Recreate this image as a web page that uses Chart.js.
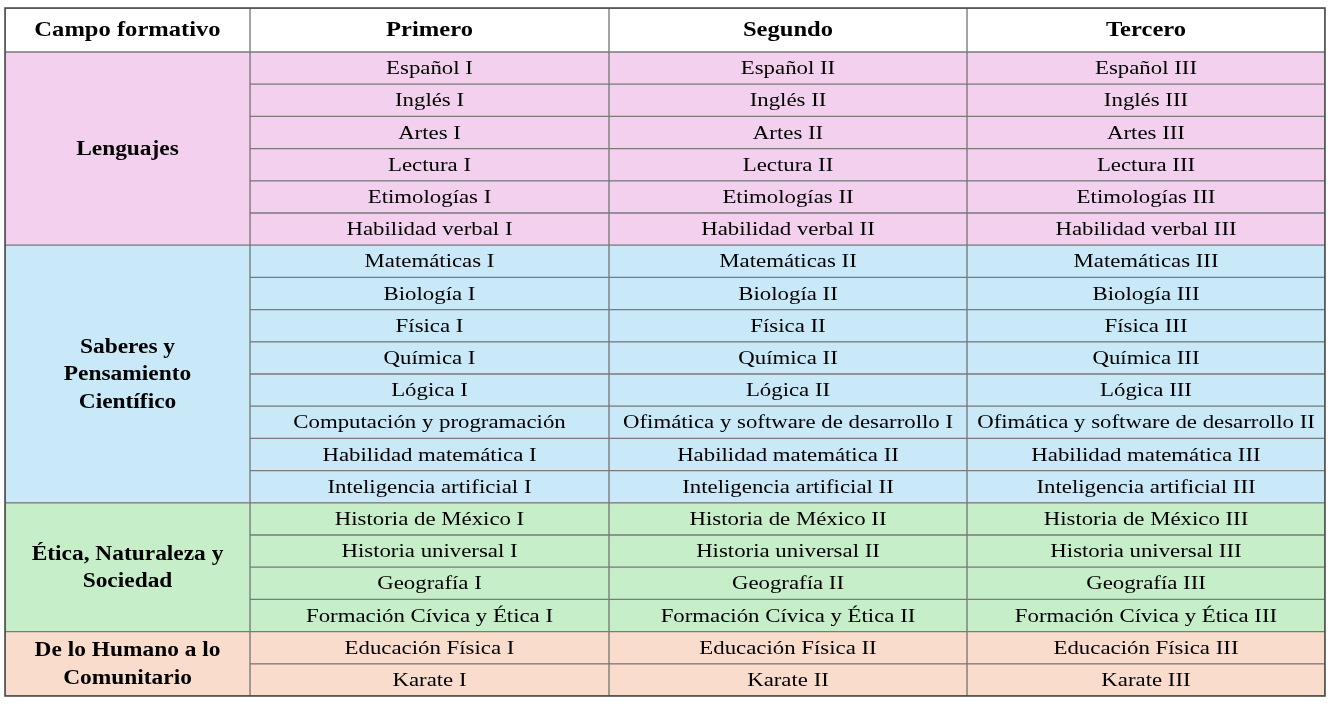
<!DOCTYPE html>
<html>
<head>
<meta charset="utf-8">
<script src="https://cdn.jsdelivr.net/npm/chart.js@4"></script>
<style>
  body { margin: 0; background: #fff; }
  #wrap { width: 1330px; height: 706px; }
</style>
</head>
<body>
<div id="wrap"><canvas id="tabla"></canvas></div>
<script>
// Table content
const headers = ['Campo formativo', 'Primero', 'Segundo', 'Tercero'];
const campos = [['Lenguajes'], ['Saberes y', 'Pensamiento', 'Científico'], ['Ética, Naturaleza y', 'Sociedad'], ['De lo Humano a lo', 'Comunitario']];
const filasPorCampo = [6, 8, 4, 2];
const coloresCampo = ['#f2d0ee', '#c9e8f8', '#c5eec9', '#f9dccc'];
const asignaturas = ['Español', 'Inglés', 'Artes', 'Lectura', 'Etimologías', 'Habilidad verbal',
  'Matemáticas', 'Biología', 'Física', 'Química', 'Lógica', null, 'Habilidad matemática', 'Inteligencia artificial',
  'Historia de México', 'Historia universal', 'Geografía', 'Formación Cívica y Ética',
  'Educación Física', 'Karate'];
const computacion = ['Computación y programación', 'Ofimática y software de desarrollo I', 'Ofimática y software de desarrollo II'];
const romanos = ['I', 'II', 'III'];

// Layout (in scale units, 1 unit = 1 px)
const colEdges = [0, 245, 604, 962, 1320];
const headerH = 44;
const totalH = 688;
const totalRows = filasPorCampo.reduce((a, b) => a + b, 0);
const rowH = (totalH - headerH) / totalRows;
const stretch = 1.17; // the reference text is a bit wider than Liberation Serif

function colCenter(c) { return (colEdges[c] + colEdges[c + 1]) / 2; }

// colour for each row
const rowColor = [];
filasPorCampo.forEach((n, g) => { for (let i = 0; i < n; i++) rowColor.push(coloresCampo[g]); });

const datasets = [];
for (let c = 0; c < 4; c++) {
  const data = [{ x: colCenter(c), y: [0, headerH] }];
  const colors = ['#ffffff'];
  const texts = [{ lines: [headers[c]], bold: true, size: 21 }];
  if (c === 0) {
    let r = 0;
    filasPorCampo.forEach((n, g) => {
      data.push({ x: colCenter(0), y: [headerH + r * rowH, headerH + (r + n) * rowH] });
      colors.push(coloresCampo[g]);
      texts.push({ lines: campos[g], bold: true, size: 20 });
      r += n;
    });
  } else {
    for (let r = 0; r < totalRows; r++) {
      data.push({ x: colCenter(c), y: [headerH + r * rowH, headerH + (r + 1) * rowH] });
      colors.push(rowColor[r]);
      const s = asignaturas[r] === null ? computacion[c - 1] : asignaturas[r] + ' ' + romanos[c - 1];
      texts.push({ lines: [s], bold: false, size: 19.5 });
    }
  }
  datasets.push({
    data: data,
    backgroundColor: colors,
    borderColor: '#7a7a7a',
    borderWidth: 1,
    borderSkipped: false,
    barThickness: colEdges[c + 1] - colEdges[c],
    grouped: false,
    texts: texts
  });
}

// Draw the cell texts at the bar centres
const cellText = {
  id: 'cellText',
  afterDatasetsDraw(chart) {
    const ctx = chart.ctx;
    ctx.save();
    ctx.fillStyle = '#000';
    ctx.textAlign = 'center';
    ctx.textBaseline = 'middle';
    chart.data.datasets.forEach((ds, i) => {
      chart.getDatasetMeta(i).data.forEach((bar, j) => {
        const t = ds.texts[j];
        ctx.font = (t.bold ? 'bold ' : '') + t.size + 'px "Liberation Serif", "DejaVu Serif", serif';
        const lh = 27.5;
        const cy = (bar.y + bar.base) / 2 - (t.lines.length - 1) * lh / 2;
        t.lines.forEach((l, k) => {
          ctx.save();
          ctx.translate(bar.x, cy + k * lh + 1);
          ctx.scale(stretch, 1);
          ctx.fillText(l, 0, 0);
          ctx.restore();
        });
      });
    });
    // outer frame
    const a = chart.chartArea;
    ctx.strokeStyle = '#444';
    ctx.lineWidth = 1.5;
    ctx.strokeRect(a.left, a.top, a.right - a.left, a.bottom - a.top);
    ctx.restore();
  }
};

new Chart(document.getElementById('tabla'), {
  type: 'bar',
  data: { datasets: datasets },
  plugins: [cellText],
  options: {
    responsive: true,
    maintainAspectRatio: false,
    animation: false,
    layout: { padding: { left: 5, right: 5, top: 8, bottom: 10 } },
    scales: {
      x: { type: 'linear', min: 0, max: 1320, display: false, offset: false },
      y: { type: 'linear', min: 0, max: totalH, reverse: true, display: false }
    },
    plugins: { legend: { display: false }, tooltip: { enabled: false } }
  }
});
</script>
</body>
</html>
